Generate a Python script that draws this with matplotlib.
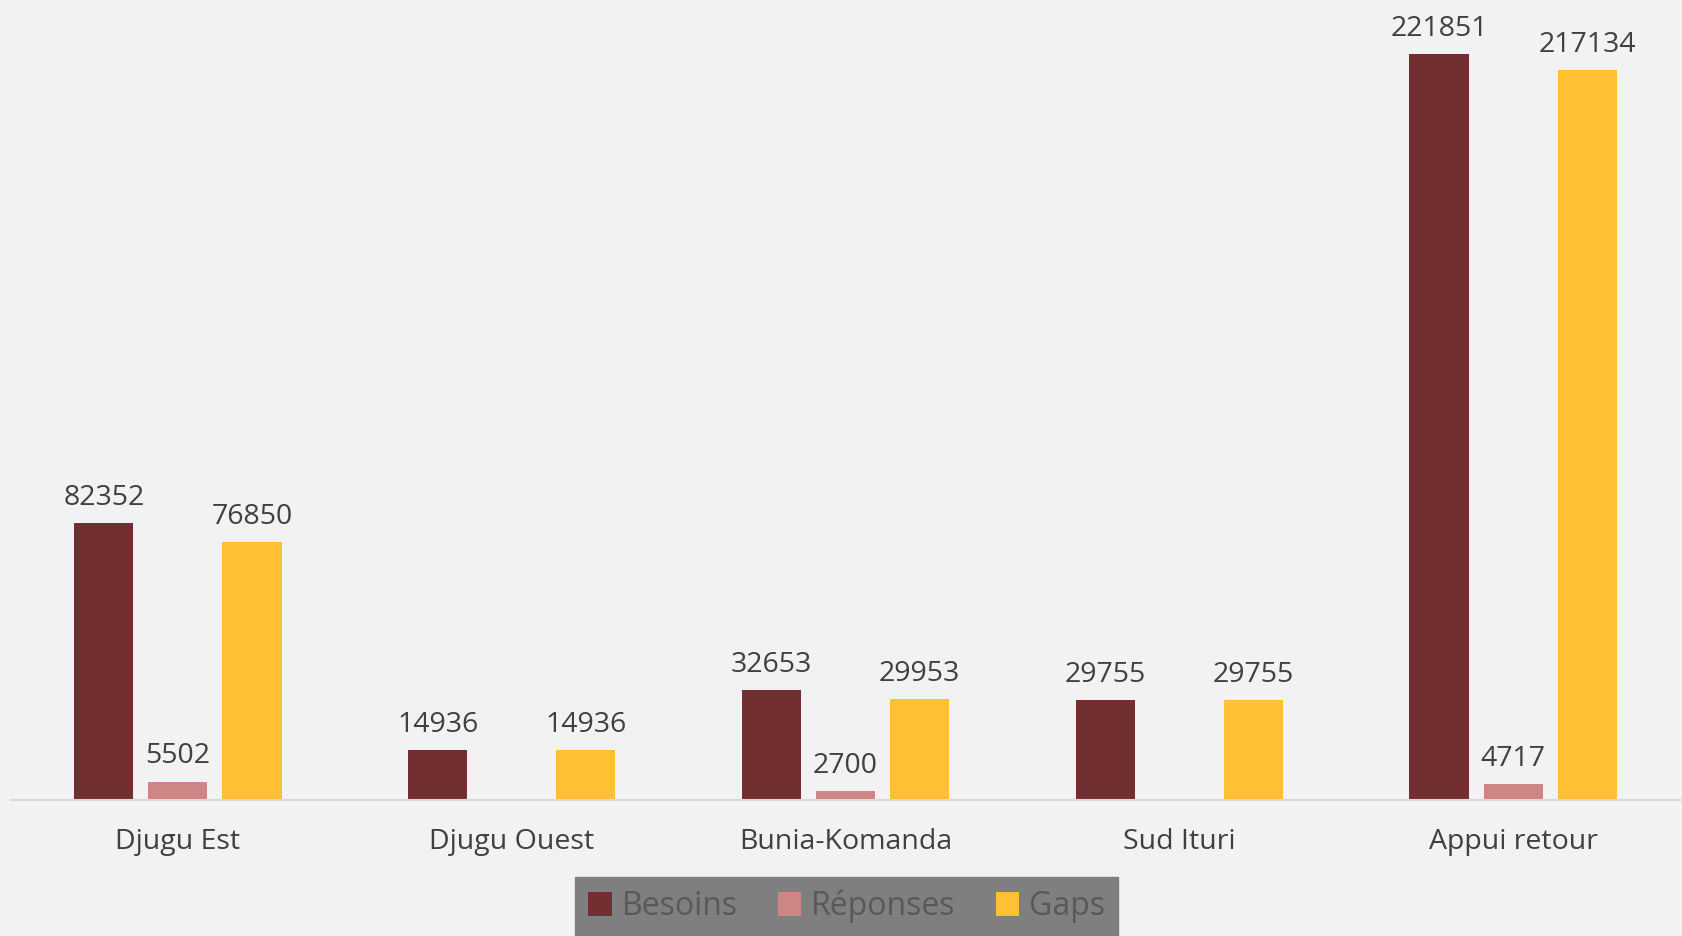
import numpy as np
import matplotlib.pyplot as plt

# données
zones = ["Djugu Est", "Djugu Ouest", "Bunia-Komanda", "Sud Ituri", "Appui retour"]
besoins = [82352, 14936, 32653, 29755, 221851]
reponses = [5502, None, 2700, None, 4717]
gaps = [76850, 14936, 29953, 29755, 217134]

series = [("Besoins", besoins, "#722F32"),
          ("Réponses", reponses, "#CD8585"),
          ("Gaps", gaps, "#FFC033")]

plt.rcParams['font.family'] = ['Open Sans', 'DejaVu Sans']

fig = plt.figure(figsize=(16.83, 9.36), dpi=100, facecolor="#F2F2F2")
ax = fig.add_axes([11 / 1683, 136 / 936, 1669 / 1683, 790 / 936])
ax.set_facecolor("#F2F2F2")

x = np.arange(len(zones))
w = 0.177
step = 0.222
handles = []
for i, (name, vals, col) in enumerate(series):
    v = np.array([np.nan if a is None else a for a in vals], dtype=float)
    bars = ax.bar(x + (i - 1) * step, np.nan_to_num(v), width=w, color=col, label=name)
    handles.append(bars)
    for xi, val in zip(x, vals):
        if val is None:
            continue
        ax.annotate(str(val), (xi + (i - 1) * step, val), xytext=(0, 8),
                    textcoords="offset points", ha="center", va="bottom",
                    fontsize=20.5, color="#404040")

ax.set_xlim(-0.5, len(zones) - 0.5)
ax.set_ylim(0, 235000)
ax.set_xticks(x)
ax.set_xticklabels(zones, fontsize=20.5, color="#404040")
ax.tick_params(axis="x", length=0, pad=20)
ax.set_yticks([])
for s in ["left", "right", "top"]:
    ax.spines[s].set_visible(False)
ax.spines["bottom"].set_color("#D9D9D9")
ax.spines["bottom"].set_linewidth(1.5)

leg = fig.legend(handles=handles, loc="lower center", bbox_to_anchor=(0.503, 0.0),
                 ncol=3, frameon=True, fancybox=False, facecolor="#7F7F7F",
                 edgecolor="#7F7F7F", framealpha=1, fontsize=23,
                 handlelength=0.75, handleheight=0.75, handletextpad=0.3,
                 columnspacing=1.25, borderpad=0.4, borderaxespad=0)
for t in leg.get_texts():
    t.set_color("#595959")

fig.savefig("out.png", dpi=100, facecolor=fig.get_facecolor())
